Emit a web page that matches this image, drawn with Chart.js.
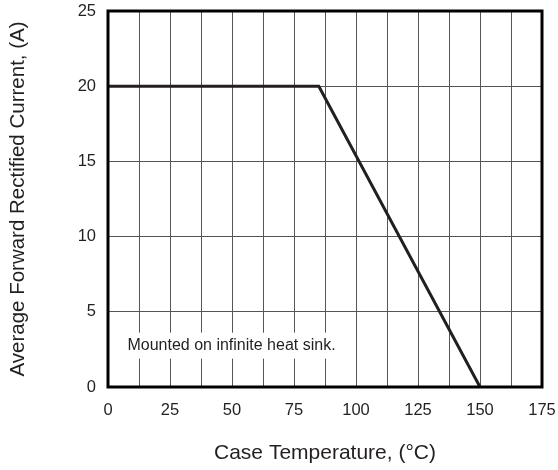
<!DOCTYPE html>
<html>
<head>
<meta charset="utf-8">
<script src="https://cdn.jsdelivr.net/npm/chart.js@4"></script>
<style>
html,body{margin:0;padding:0;background:#fff;}
#wrap{width:558px;height:470px;}
</style>
</head>
<body>
<div id="wrap"><canvas id="c" width="558" height="470"></canvas></div>
<script>
const temperatures = [0, 85, 150];
const currents = [20, 20, 0];
const xTickLabels = [0, 25, 50, 75, 100, 125, 150, 175];
const yTickLabels = [0, 5, 10, 15, 20, 25];
const xTitle = 'Case Temperature, (°C)';
const yTitle = 'Average Forward Rectified Current, (A)';
const noteText = 'Mounted on infinite heat sink.';
const notePos = [49.8, 2.75];

const font = "'Liberation Sans', Arial, sans-serif";

const framePlugin = {
  id: 'frame',
  afterDatasetsDraw(chart) {
    const {ctx, chartArea: a, scales} = chart;
    ctx.save();
    ctx.font = '16px ' + font;
    const x = scales.x.getPixelForValue(notePos[0]);
    const y = scales.y.getPixelForValue(notePos[1]);
    const w = ctx.measureText(noteText).width;
    ctx.fillStyle = '#fff';
    ctx.fillRect(x - w/2 - 8, y - 13, w + 16, 26);
    ctx.fillStyle = '#231f20';
    ctx.textAlign = 'center';
    ctx.textBaseline = 'middle';
    ctx.fillText(noteText, x, y);
    ctx.strokeStyle = '#000';
    ctx.lineWidth = 3;
    ctx.strokeRect(a.left, a.top, a.right - a.left, a.bottom - a.top);
    ctx.restore();
  }
};

new Chart(document.getElementById('c'), {
  type: 'scatter',
  data: {
    datasets: [{
      data: temperatures.map((t, i) => ({x: t, y: currents[i]})),
      showLine: true,
      borderColor: '#231f20',
      borderWidth: 3,
      pointRadius: 0,
      fill: false
    }]
  },
  options: {
    responsive: false,
    animation: false,
    layout: {padding: {top: 11, right: 16, left: 0, bottom: 0}},
    plugins: {legend: {display: false}, tooltip: {enabled: false}},
    scales: {
      x: {
        type: 'linear',
        min: 0, max: 175,
        afterBuildTicks(s) {
          const t = [];
          for (let v = 0; v <= 175; v += 12.5) t.push({value: v});
          s.ticks = t;
        },
        afterFit(s) { s.height = 83; s.paddingLeft = 0; s.paddingRight = 0; },
        grid: {color: '#555', lineWidth: 1, drawTicks: false},
        border: {display: false},
        ticks: {
          padding: 14,
          color: '#231f20',
          font: {family: font, size: 16.5},
          maxRotation: 0,
          autoSkip: false,
          callback: v => xTickLabels.includes(v) ? String(v) : ''
        },
        title: {display: true, text: xTitle, color: '#231f20', font: {family: font, size: 21}, padding: {top: 16}}
      },
      y: {
        type: 'linear',
        min: 0, max: 25,
        afterBuildTicks(s) { s.ticks = yTickLabels.map(v => ({value: v})); },
        afterFit(s) { s.width = 108; s.paddingTop = 0; s.paddingBottom = 0; },
        grid: {color: '#555', lineWidth: 1, drawTicks: false},
        border: {display: false},
        ticks: {
          padding: 12,
          color: '#231f20',
          font: {family: font, size: 16.5}
        },
        title: {display: true, text: yTitle, color: '#231f20', font: {family: font, size: 20.5}, padding: {top: 6, bottom: 10}}
      }
    }
  },
  plugins: [framePlugin]
});
</script>
</body>
</html>
